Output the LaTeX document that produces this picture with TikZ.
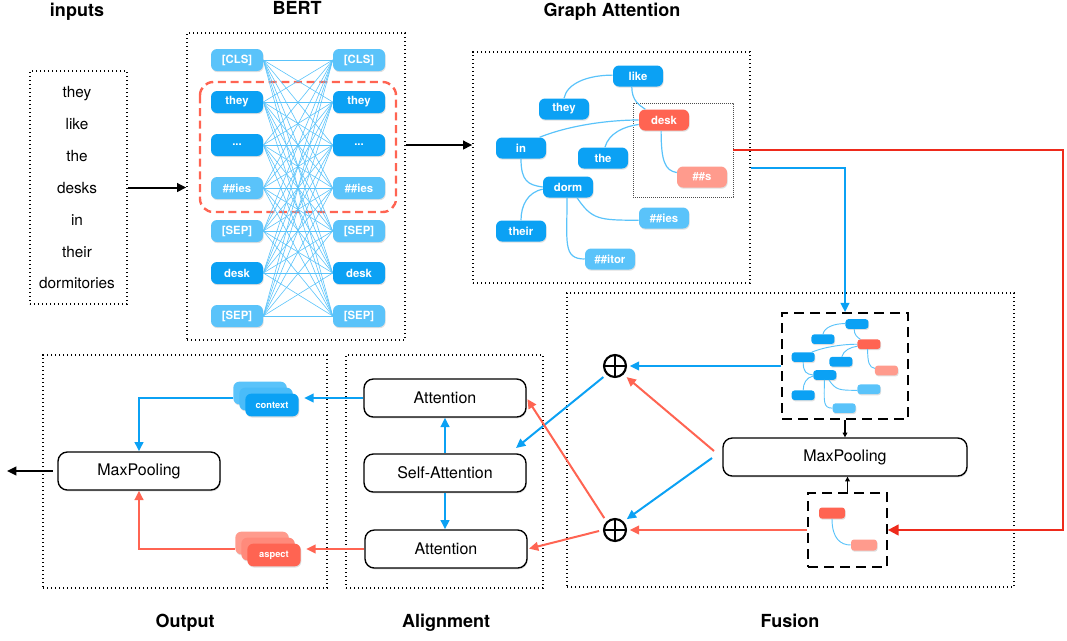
\documentclass[tikz,border=0pt]{standalone}
\usepackage{fontspec}
\setmainfont{TeX Gyre Heros}
\usetikzlibrary{arrows.meta,shadows,calc}
\definecolor{dblue}{HTML}{0BA1F4}
\definecolor{lblue}{HTML}{5AC3FA}
\definecolor{nred}{HTML}{FF6452}
\definecolor{salmon}{HTML}{FF9B8D}
\definecolor{eblue}{HTML}{5AC3FA}
\definecolor{ablue}{HTML}{0BA1F4}
\definecolor{ared}{HTML}{FF6452}
\definecolor{bred}{HTML}{EE2A1B}
\newcommand\showtxt[1]{#1}
\newcommand\hidetxt[1]{}
\newcommand\tdots{...}
\tikzset{
  tok/.style={rectangle, rounded corners=4.5pt, minimum width=39pt, minimum height=16.5pt, inner sep=0pt, text=white, font=\bfseries\fontsize{8.5}{10}\selectfont, drop shadow={opacity=0.25, shadow xshift=0.5pt, shadow yshift=-0.9pt}},
  tokd/.style={tok, fill=dblue},
  tokl/.style={tok, fill=lblue},
  tokr/.style={tok, fill=nred},
  toks/.style={tok, fill=salmon},
  gsz/.style={minimum width=37.5pt, minimum height=15.75pt},
  frame/.style={draw, line width=1pt, dash pattern=on 1pt off 2pt, inner sep=0pt},
  ttl/.style={font=\bfseries\fontsize{13.5}{16}\selectfont, anchor=base},
  word/.style={font=\fontsize{11.5}{14}\selectfont, anchor=base},
  box/.style={draw, line width=1pt, rounded corners=7pt, fill=white, inner sep=0pt, minimum height=28.5pt, font=\fontsize{12}{14}\selectfont, drop shadow={opacity=0.3, shadow xshift=0.6pt, shadow yshift=-1pt}},
  gedge/.style={draw=eblue},
  bline/.style={draw=eblue, line width=0.45pt},
  barr/.style={draw=ablue, line width=1.5pt, -{Triangle[length=7pt,width=6.5pt]}},
  rarr/.style={draw=ared, line width=1.5pt, -{Triangle[length=7pt,width=6.5pt]}},
  karr/.style={draw=black, line width=1.5pt, -{Triangle[length=7pt,width=6.5pt]}},
  sarr/.style={draw=black, line width=0.8pt, -{Triangle[length=3.5pt,width=3.5pt]}},
  dbox/.style={draw, line width=1.3pt, dash pattern=on 7.5pt off 4.5pt, inner sep=0pt},
  oplus/.style={circle, draw, line width=1.6pt, minimum size=16.5pt, inner sep=0pt, path picture={\draw[line width=1.6pt] (path picture bounding box.north) -- (path picture bounding box.south) (path picture bounding box.west) -- (path picture bounding box.east);}},
  card/.style={tok, minimum width=40pt, minimum height=17pt, font=\bfseries\fontsize{7}{8}\selectfont},
  mini/.style={tok, minimum width=19.5pt, minimum height=8.25pt, rounded corners=2.2pt},
}
\newcommand\gagraph[3]{%
  \node[tokd,gsz] (#1like) at (638,76) {#2{like}};
  \node[tokd,gsz] (#1they) at (564,109) {#2{they}};
  \node[tokr,gsz] (#1desk) at (664,120) {#2{desk}};
  \node[tokd,gsz] (#1in) at (521,148) {#2{in}};
  \node[tokd,gsz] (#1the) at (603,158) {#2{the}};
  \node[toks,gsz] (#1s) at (702,177) {#2{\#\#s}};
  \node[tokd,gsz] (#1dorm) at (568,187) {#2{dorm}};
  \node[tokl,gsz] (#1ies) at (664,218) {#2{\#\#ies}};
  \node[tokd,gsz] (#1their) at (521,231) {#2{their}};
  \node[tokl,gsz] (#1itor) at (610,259) {#2{\#\#itor}};
  \draw[gedge, line width=#3] (#1they.90) .. controls +(3,-15) and +(-25,0) .. (#1like.178);
  \draw[gedge, line width=#3] (#1like.240) .. controls +(0,14) and +(-6,-4) .. (#1desk.150);
  \draw[gedge, line width=#3] (#1in.30) .. controls +(30,-12) and +(-30,0) .. (#1desk.180);
  \draw[gedge, line width=#3] (#1the.80) .. controls +(4,-14) and +(-15,2) .. (#1desk.190);
  \draw[gedge, line width=#3] (#1desk.255) .. controls +(0,30) and +(-12,-2) .. (#1s.170);
  \draw[gedge, line width=#3] (#1in.270) .. controls +(0,22) and +(-15,-2) .. (#1dorm.180);
  \draw[gedge, line width=#3] (#1dorm.185) .. controls +(-15,3) and +(0,-15) .. (#1their.90);
  \draw[gedge, line width=#3] (#1dorm.310) .. controls +(15,22) and +(-40,0) .. (#1ies.185);
  \draw[gedge, line width=#3] (#1dorm.265) .. controls +(0,45) and +(-22,0) .. (#1itor.180);
}
\begin{document}
\begin{tikzpicture}[x=0.75pt,y=-0.75pt]
\useasboundingbox (0,0) rectangle (1067,640);
% frames
\node[frame, minimum width=72.75pt, minimum height=174.75pt] (inf) at (78.5,187.5) {};
\node[frame, minimum width=163.5pt, minimum height=230.25pt] (bf) at (296,186.5) {};
\node[frame, minimum width=207.75pt, minimum height=173.25pt] (gaf) at (611.5,167.5) {};
\node[frame, minimum width=335.25pt, minimum height=220.5pt] (ff) at (790.5,440) {};
\node[frame, minimum width=147.75pt, minimum height=174.75pt] (af) at (444.5,471.5) {};
\node[frame, minimum width=213pt, minimum height=174.75pt] (of) at (185,471.5) {};
% titles
\node[ttl] (t1) at (77,16) {inputs};
\node[ttl] (t2) at (297,14) {BERT};
\node[ttl] (t3) at (612,16) {Graph Attention};
\node[ttl] (t4) at (185,627) {Output};
\node[ttl] (t5) at (446,627) {Alignment};
\node[ttl] (t6) at (790,627) {Fusion};
% inputs
\foreach \k/\y/\w in {1/97/they,2/129/like,3/161/the,4/193/desks,5/225/in,6/257/their,7/288/dormitories}{
  \node[word] (w\k) at (77,\y) {\w};
}
% BERT
\draw[nred, line width=1.8pt, dash pattern=on 6pt off 3.5pt, rounded corners=10pt] (200,82) rectangle (396,212);
\foreach \i/\y/\t/\cl in {1/60/[CLS]/tokl, 2/102/they/tokd, 3/145/\tdots/tokd, 4/188/\#\#ies/tokl, 5/231/[SEP]/tokl, 6/273/desk/tokd, 7/316/[SEP]/tokl}{
  \node[\cl] (l\i) at (237,\y) {\t};
  \node[\cl] (r\i) at (359,\y) {\t};
}
\foreach \i in {1,...,7}{
  \foreach \j in {1,...,7}{
    \draw[bline] (l\i.east) -- (r\j.west);
  }
}
\draw[karr] (inf.east) -- (inf.east -| bf.west);
\draw[karr] (r3 -| bf.east) -- (r3 -| gaf.west);
% graph attention
\node[draw=black!70, line width=0.5pt, dash pattern=on 0.6pt off 0.9pt, minimum width=75pt, minimum height=70.5pt, inner sep=0pt] (dbx) at (683,150) {};
\gagraph{g}{\showtxt}{0.9pt}
% fusion: mini graph
\node[dbox, minimum width=94.5pt, minimum height=79.5pt] (mbox) at (845,366) {};
\begin{scope}[shift={(563.5,289)}, scale=0.46, transform shape, gsz/.append style={rounded corners=2.2pt}]
\gagraph{m}{\hidetxt}{0.7pt}
\end{scope}
% aspect mini
\node[dbox, minimum width=59.25pt, minimum height=55.5pt] (abox) at (847.5,530) {};
\node[mini, fill=nred] (ad) at (832,513) {};
\node[mini, fill=salmon] (as) at (864,545) {};
\draw[gedge, line width=0.7pt] (ad.south) .. controls +(0,20) and +(-10,0) .. (as.west);
% fusion maxpool
\node[box, minimum width=183pt] (fmp) at (845,457) {MaxPooling};
\draw[sarr] (mbox.south) -- (fmp.north);
\draw[sarr] (abox.north) -- (abox.north |- fmp.south);
\node[oplus] (o1) at (615,366) {};
\node[oplus] (o2) at (615,530) {};
\draw[barr, shorten >=2pt] (mbox.west) -- (o1.east);
\draw[rarr, shorten >=2pt] (abox.west) -- (o2.east);
\coordinate (fr) at (714,451);
\coordinate (fb) at (712,458);
\draw[rarr, shorten >=3pt] (fr) -- (o1.-45);
\draw[barr, shorten >=3pt] (fb) -- (o2.45);
% red long line
\coordinate (rc) at (1063,150);
\draw[bred, line width=1.5pt, -{Triangle[length=8pt,width=8pt]}] (dbx.east) -- (rc) |- (abox.east);
% blue line to fusion
\draw[barr] (gaf.east) -| (mbox.north);
% alignment
\node[box, minimum width=121.5pt] (att1) at (445,398) {Attention};
\node[box, minimum width=121.5pt] (satt) at (445,473) {Self-Attention};
\node[box, minimum width=121.5pt] (att2) at (446,549) {Attention};
\draw[barr] (satt.north) -- (att1.south);
\draw[barr] (satt.south) -- (satt.south |- att2.north);
\coordinate (sat) at (516,448);
\draw[barr, shorten <=3pt] (o1.-135) -- (sat);
\draw[rarr, shorten <=3pt, shorten >=1pt] (o2.135) -- (att1.east);
\draw[rarr, shorten <=3pt, shorten >=1pt] (o2.west) -- (att2.east);
% output
\node[box, minimum width=121.5pt] (omp) at (139,471) {MaxPooling};
\node[card, fill=lblue] (c1) at (260,393) {};
\node[card, fill=lblue!80!dblue] (c2) at (266,399) {};
\node[card, fill=dblue] (c3) at (272,405) {context};
\node[card, fill=salmon] (a1) at (262,543) {};
\node[card, fill=salmon!70!nred] (a2) at (268,549) {};
\node[card, fill=nred] (a3) at (274,555) {aspect};
\draw[barr, shorten >=4pt] (att1.west) -- (att1.west -| c3.east);
\draw[rarr, shorten >=4pt] (att2.west) -- (att2.west -| a3.east);
\draw[barr] (c1.west |- att1.west) -| (omp.north);
\draw[rarr] (a1.west |- att2.west) -| (omp.south);
\coordinate (outc) at (7,471);
\draw[karr, shorten <=3.5pt] (omp.west) -- (outc);
\end{tikzpicture}
\end{document}
